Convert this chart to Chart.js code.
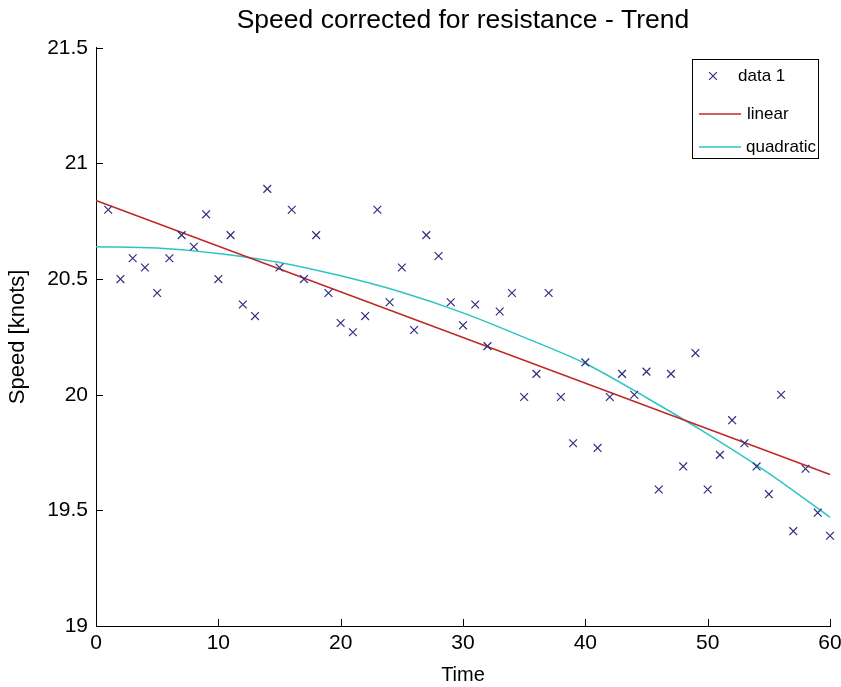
<!DOCTYPE html>
<html>
<head>
<meta charset="utf-8">
<script src="https://cdn.jsdelivr.net/npm/chart.js@4/dist/chart.umd.min.js"></script>
<style>
  html, body { margin: 0; padding: 0; background: #ffffff; }
  canvas { display: block; }
</style>
</head>
<body>
<canvas id="chart" width="841" height="687"></canvas>
<script>
// ---- data ----
const times = [1,2,3,4,5,6,7,8,9,10,11,12,13,14,15,16,17,18,19,20,
               21,22,23,24,25,26,27,28,29,30,31,32,33,34,35,36,37,38,39,40,
               41,42,43,44,45,46,47,48,49,50,51,52,53,54,55,56,57,58,59,60];
const speeds = [20.80,20.50,20.59,20.55,20.44,20.59,20.69,20.64,20.78,20.50,
                20.69,20.39,20.34,20.89,20.55,20.80,20.50,20.69,20.44,20.31,
                20.27,20.34,20.80,20.40,20.55,20.28,20.69,20.60,20.40,20.30,
                20.39,20.21,20.36,20.44,19.99,20.09,20.44,19.99,19.79,20.14,
                19.77,19.99,20.09,20.00,20.10,19.59,20.09,19.69,20.18,19.59,
                19.74,19.89,19.79,19.69,19.57,20.00,19.41,19.68,19.49,19.39];
const linearTimes = [0, 60];
const linearValues = [20.84, 19.655];
const quadTimes = [0,5,10,15,20,25,30,35,40,45,50,55,60];
const quadValues = [20.64,20.634,20.611,20.572,20.514,20.443,20.354,20.248,20.135,19.987,19.83,19.66,19.47];
const seriesLabels = ['data 1', 'linear', 'quadratic'];
const xTickRange = { min: 0, max: 60, step: 10 };
const yTickRange = { min: 19, max: 21.5, step: 0.5 };
const chartTitle = 'Speed corrected for resistance - Trend';
const xTitle = 'Time';
const yTitle = 'Speed [knots]';

const toPoints = (xs, ys) => xs.map((x, i) => ({ x: x, y: ys[i] }));

const FONT = "'Liberation Sans', Arial, Helvetica, sans-serif";
Chart.defaults.font.family = FONT;
Chart.defaults.color = '#000000';

const MARKER_COLOR = '#2e2e80';
const LINEAR_COLOR = '#c02828';
const QUAD_COLOR = '#2cc4c4';

// inward ticks (MATLAB style)
const inwardTicks = {
  id: 'inwardTicks',
  afterDatasetsDraw(chart) {
    const ctx = chart.ctx;
    const xs = chart.scales.x, ys = chart.scales.y;
    const a = chart.chartArea;
    ctx.save();
    ctx.strokeStyle = '#000000';
    ctx.lineWidth = 1;
    ctx.beginPath();
    xs.ticks.forEach(t => {
      const px = Math.round(xs.getPixelForValue(t.value)) + 0.5;
      ctx.moveTo(px, a.bottom);
      ctx.lineTo(px, a.bottom - 7);
    });
    ys.ticks.forEach(t => {
      const py = Math.round(ys.getPixelForValue(t.value)) + 0.5;
      ctx.moveTo(a.left, py);
      ctx.lineTo(a.left + 7, py);
    });
    ctx.stroke();
    ctx.restore();
  }
};

// boxed legend inside the plot area
const boxedLegend = {
  id: 'boxedLegend',
  afterDraw(chart) {
    const ctx = chart.ctx;
    const ds = chart.data.datasets;
    const right = chart.chartArea.right - 12;
    const w = 126, h = 99, top = 59;
    const left = right - w;
    ctx.save();
    ctx.fillStyle = '#ffffff';
    ctx.fillRect(left, top, w, h);
    ctx.strokeStyle = '#000000';
    ctx.lineWidth = 1;
    ctx.strokeRect(left + 0.5, top + 0.5, w, h);
    const rows = [76, 114, 147];
    const textX = [left + 46, left + 55, left + 54];
    ctx.font = '17px ' + FONT;
    ctx.textBaseline = 'middle';
    ctx.textAlign = 'left';
    ds.forEach((d, i) => {
      const y = rows[i];
      if (d.showLine) {
        ctx.strokeStyle = d.borderColor;
        ctx.lineWidth = d.borderWidth;
        ctx.beginPath();
        ctx.moveTo(left + 7, y);
        ctx.lineTo(left + 49, y);
        ctx.stroke();
      } else {
        ctx.strokeStyle = d.pointBorderColor;
        ctx.lineWidth = d.pointBorderWidth;
        Chart.helpers.drawPoint(ctx, { pointStyle: 'crossRot', radius: d.pointRadius, borderWidth: d.pointBorderWidth }, left + 21, y);
      }
      ctx.fillStyle = '#000000';
      ctx.fillText(d.label, textX[i], y);
    });
    ctx.restore();
  }
};

new Chart(document.getElementById('chart'), {
  type: 'scatter',
  data: {
    datasets: [
      {
        label: seriesLabels[0],
        data: toPoints(times, speeds),
        showLine: false,
        pointStyle: 'crossRot',
        pointRadius: 5.5,
        pointBorderWidth: 1.2,
        pointBorderColor: MARKER_COLOR,
        pointBackgroundColor: MARKER_COLOR,
        clip: false
      },
      {
        label: seriesLabels[1],
        data: toPoints(linearTimes, linearValues),
        showLine: true,
        borderColor: LINEAR_COLOR,
        borderWidth: 1.5,
        pointRadius: 0,
        fill: false,
        clip: false
      },
      {
        label: seriesLabels[2],
        data: toPoints(quadTimes, quadValues),
        showLine: true,
        borderColor: QUAD_COLOR,
        borderWidth: 1.5,
        pointRadius: 0,
        cubicInterpolationMode: 'monotone',
        fill: false,
        clip: false
      }
    ]
  },
  options: {
    responsive: false,
    animation: false,
    devicePixelRatio: 1,
    layout: { padding: { left: 0, right: 11, top: 0, bottom: 0 } },
    plugins: {
      legend: { display: false },
      tooltip: { enabled: false },
      title: {
        display: true,
        text: chartTitle,
        fullSize: false,
        font: { size: 26.5, weight: 'normal', family: FONT },
        color: '#000000',
        padding: { top: 5, bottom: 11 }
      }
    },
    scales: {
      x: {
        type: 'linear',
        min: xTickRange.min,
        max: xTickRange.max,
        ticks: { stepSize: xTickRange.step, font: { size: 21 }, color: '#000000', padding: 5, maxRotation: 0 },
        grid: { drawOnChartArea: false, drawTicks: false },
        border: { display: true, color: '#000000', width: 1 },
        title: { display: true, text: xTitle, font: { size: 20 }, color: '#000000', padding: { top: 0, bottom: 0 } },
        afterFit: s => { s.height = 61; s.paddingRight = 0; s.paddingLeft = 0; }
      },
      y: {
        type: 'linear',
        min: yTickRange.min,
        max: yTickRange.max,
        ticks: {
          stepSize: yTickRange.step, font: { size: 21 }, color: '#000000', padding: 8,
          callback: v => String(v)
        },
        grid: { drawOnChartArea: false, drawTicks: false },
        border: { display: true, color: '#000000', width: 1 },
        title: { display: true, text: yTitle, font: { size: 22 }, color: '#000000', padding: { top: 5, bottom: 0 } },
        afterFit: s => { s.width = 96; }
      }
    }
  },
  plugins: [inwardTicks, boxedLegend]
});
</script>
</body>
</html>
